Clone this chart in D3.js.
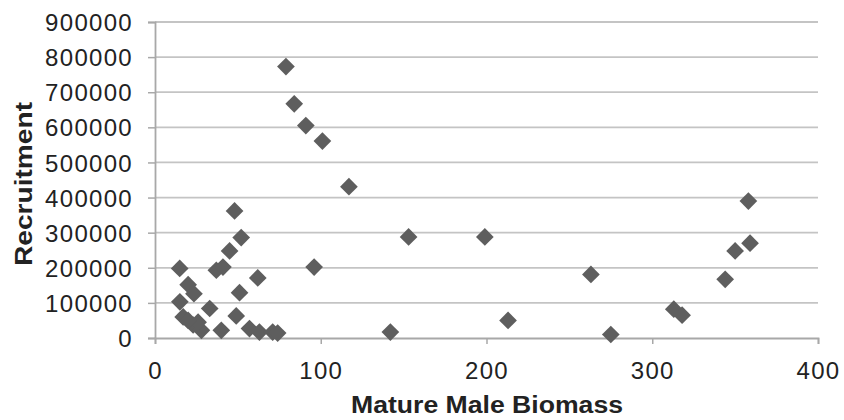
<!DOCTYPE html>
<html>
<head>
<meta charset="utf-8">
<script src="https://cdn.jsdelivr.net/npm/d3@7"></script>
<style>
  body { margin: 0; background: #fff; }
  svg text { font-family: "Liberation Sans", Arial, sans-serif; fill: #222; }
</style>
</head>
<body>
<svg id="chart"></svg>
<script>
'use strict';

var WIDTH = 844;
var HEIGHT = 420;

// biomass (x) and recruitment (y)
var biomass = [14.9, 37, 41, 45, 48, 52, 62, 51, 20, 23.5, 15, 33, 49, 17, 23, 28, 26, 20, 40, 57, 63, 71, 74,
  79, 84, 91, 101, 117, 96, 153, 199, 142, 213, 263, 275, 313, 318, 344, 350, 359, 358];
var recruitment = [198000, 193000, 202000, 248000, 362000, 286000, 171000, 129000, 152000, 126000, 103000, 84000,
  63000, 60000, 37000, 22000, 45000, 50000, 22000, 27000, 17000, 17000, 14000,
  773000, 667000, 605000, 561000, 431000, 202000, 288000, 288000, 17000, 50000, 181000, 10000, 82000, 65000,
  167000, 248000, 270000, 390000];

var xTicks = [0, 100, 200, 300, 400];
var yTicks = [0, 100000, 200000, 300000, 400000, 500000, 600000, 700000, 800000, 900000];

var points = biomass.map(function(d, i){ return [d, recruitment[i]]; });

var x = d3.scaleLinear().domain([0, 400]).range([155, 818]);
var y = d3.scaleLinear().domain([0, 900000]).range([338, 22]);

var svg = d3.select("#chart").attr("width", WIDTH).attr("height", HEIGHT);

// horizontal grid
svg.append("g")
  .selectAll("line")
  .data(yTicks.slice(1))
  .enter().append("line")
  .attr("x1", x(0)).attr("x2", x(400))
  .attr("y1", function(d){ return y(d); })
  .attr("y2", function(d){ return y(d); })
  .attr("stroke", "#c4c4c4").attr("stroke-width", 1.8);

var yAxis = svg.append("g")
  .attr("transform", "translate(" + x(0) + ",0)")
  .call(d3.axisLeft(y).tickValues(yTicks).tickSize(7).tickPadding(15).tickFormat(d3.format("d")));

var xAxis = svg.append("g")
  .attr("transform", "translate(0," + y(0) + ")")
  .call(d3.axisBottom(x).tickValues(xTicks).tickSize(6).tickPadding(18).tickFormat(d3.format("d")));

[yAxis, xAxis].forEach(function(a){
  a.select(".domain").attr("stroke", "#a8a8a8").attr("stroke-width", 1.8);
  a.selectAll(".tick line").attr("stroke", "#a8a8a8").attr("stroke-width", 1.5);
  a.selectAll("text").style("font-size", "24px").style("letter-spacing", "1.3px").attr("fill", "#222");
});
yAxis.selectAll("text").attr("dy", "0.36em");

// diamonds
svg.append("g")
  .selectAll("path")
  .data(points)
  .enter().append("path")
  .attr("d", d3.symbol().type(d3.symbolDiamond2).size(200))
  .attr("transform", function(d){ return "translate(" + x(d[0]) + "," + y(d[1]) + ")"; })
  .attr("fill", "#5e5e5e");

svg.append("text")
  .attr("transform", "translate(32,184) rotate(-90)")
  .attr("text-anchor", "middle")
  .attr("textLength", 164)
  .attr("lengthAdjust", "spacingAndGlyphs")
  .style("font-size", "24px").style("font-weight", "bold")
  .text("Recruitment");

svg.append("text")
  .attr("x", 487).attr("y", 413)
  .attr("text-anchor", "middle")
  .attr("textLength", 272)
  .attr("lengthAdjust", "spacingAndGlyphs")
  .style("font-size", "23px").style("font-weight", "bold")
  .text("Mature Male Biomass");
</script>
</body>
</html>
